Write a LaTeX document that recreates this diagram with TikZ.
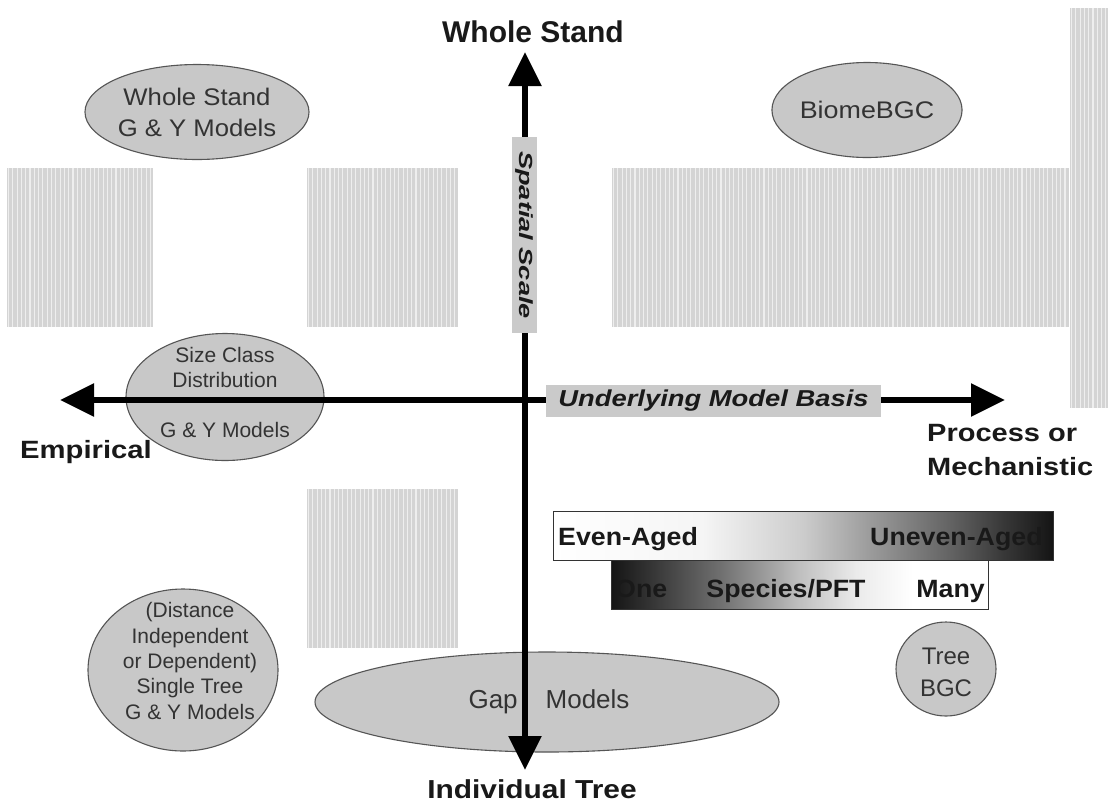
\documentclass[tikz,border=0pt]{standalone}
\usepackage{fontspec}
\setmainfont{Liberation Sans}
\usetikzlibrary{shapes.geometric,arrows.meta}

\definecolor{ellfill}{RGB}{200,200,200}
\definecolor{elldraw}{RGB}{85,85,85}
\definecolor{boxfill}{RGB}{202,202,202}
\definecolor{inktext}{RGB}{25,25,25}
\definecolor{stripebg}{RGB}{212,212,212}
\definecolor{stripelight}{RGB}{238,238,238}

\newcommand{\setfs}[2]{\fontsize{#1}{#2}\selectfont}

% left-to-right: white to black (stand age structure)
\pgfdeclarehorizontalshading{agedshade}{100bp}{%
  color(0bp)=(white); color(25bp)=(white); color(40bp)=(black!4);
  color(50bp)=(black!20); color(57bp)=(black!40); color(65bp)=(black!62);
  color(70bp)=(black!78); color(75bp)=(black!92); color(100bp)=(black!92)}
% left-to-right: black to white (species richness)
\pgfdeclarehorizontalshading{speciesshade}{100bp}{%
  color(0bp)=(black!92); color(25bp)=(black!92); color(30bp)=(black!80);
  color(40bp)=(black!55); color(50bp)=(black!25); color(57.5bp)=(black!8);
  color(65bp)=(white); color(75bp)=(white); color(100bp)=(white)}

% light grey block with thin vertical stripes
\newcommand{\stripeblk}[4]{%
  \fill[stripebg] (#1,#2) rectangle (#3,#4);
  \pgfmathtruncatemacro{\nstr}{(#3-#1-2)/4.3}
  \foreach \i in {0,...,\nstr}{%
    \draw[stripelight,line width=1.1pt] ({#1+1.5+\i*4.3},#2) -- ({#1+1.5+\i*4.3},#4);}%
}

\tikzset{
  model/.style={ellipse, draw=elldraw, line width=1.1pt, fill=ellfill,
    inner sep=0pt, text=black!80, align=center},
  modeltext/.style={text=black!80, align=center, inner sep=0pt},
  axisline/.style={line width=5.5pt, -{Triangle[length=34pt,width=32pt]}},
  axislabel/.style={fill=boxfill, inner sep=0pt, text=inktext},
  poletext/.style={text=inktext, inner sep=0pt, font=\bfseries},
  scalebar/.style={draw=black!80, line width=1pt, minimum height=49pt, inner sep=0pt},
  bartext/.style={text=inktext, inner sep=0pt, font=\bfseries\setfs{25}{30}},
}

\begin{document}
\begin{tikzpicture}[x=1pt,y=-1pt]
\useasboundingbox (0,0) rectangle (1108,804);
\fill[white] (0,0) rectangle (1108,804);

% striped blocks
\stripeblk{7}{168}{153}{327}
\stripeblk{307}{168}{458}{327}
\stripeblk{612}{168}{1069}{327}
\stripeblk{1070}{8}{1108}{408}
\stripeblk{307}{489}{458}{648}

% model families
\node[model, minimum width=214pt, minimum height=95pt, font=\setfs{24}{31}] (wsgy) at (197,112)
  {\scalebox{1.07}[1]{Whole Stand}\\\scalebox{1.07}[1]{G \& Y Models}};
\node[model, minimum width=185pt, minimum height=95pt, font=\setfs{24}{31}] (biome) at (867,110)
  {\scalebox{1.12}[1]{BiomeBGC}};
\node[model, minimum width=198pt, minimum height=127pt] (sizecl) at (225,397) {};
\node[modeltext, font=\setfs{21}{25}] (sizecltxt) at (225,392.5)
  {Size Class\\Distribution\\[25pt]G \& Y Models};
\node[model, minimum width=190pt, minimum height=162pt] (single) at (183,670) {};
\node[modeltext, font=\setfs{21}{25.3}] (singletxt) at (190,661)
  {(Distance\\Independent\\or Dependent)\\Single Tree\\G \& Y Models};
\node[model, minimum width=464pt, minimum height=100pt] (gap) at (547,702) {};
\node[modeltext, font=\setfs{26}{30}] (gaptxt) at (549,702)
  {Gap\hspace{28pt}Models};
\node[model, minimum width=100pt, minimum height=94pt] (treebgc) at (946,669) {};
\node[modeltext, font=\setfs{24}{32}] (treebgctxt) at (946,672) {Tree\\BGC};

% gradient bars
\node[scalebar, shading=agedshade, minimum width=500pt] (aged) at (803,536) {};
\node[bartext, anchor=base west] (even) at (558,545) {\scalebox{1.07}[1]{Even-Aged}};
\begin{scope}
  \clip (aged.south west) rectangle (aged.north east);
  \node[bartext, anchor=base west] (uneven) at (870,545) {\scalebox{1.07}[1]{Uneven-Aged}};
\end{scope}
\node[scalebar, shading=speciesshade, minimum width=377pt] (species) at (799.5,585) {};
\node[bartext, anchor=base west] (one) at (615,597) {\scalebox{1.07}[1]{One}};
\node[bartext, anchor=base] (spp) at (786,597) {\scalebox{1.07}[1]{Species/PFT}};
\node[bartext, anchor=base east] (many) at (985,597) {\scalebox{1.07}[1]{Many}};

% axes
\coordinate (o) at (525,400);
\coordinate (top) at (525,52);
\coordinate (bot) at (525,770);
\coordinate (left) at (60,400);
\coordinate (right) at (1005,400);
\draw[axisline] (o) -- (top);
\draw[axisline] (o) -- (bot);
\draw[axisline] (o) -- (left);
\draw[axisline] (o) -- (right);

% axis captions
\node[axislabel, minimum width=25pt, minimum height=196pt] (spatial) at (524.5,235)
  {\rotatebox{-90}{\bfseries\itshape\setfs{19}{22}\scalebox{1.43}[1]{Spatial Scale}}};
\node[axislabel, minimum width=335pt, minimum height=32pt] (basis) at (713.5,401)
  {\bfseries\itshape\setfs{23}{26}\scalebox{1.19}[1]{Underlying Model Basis}};

% pole labels
\node[poletext, font=\bfseries\setfs{30}{34}] (wstand) at (533,32) {Whole Stand};
\node[poletext, font=\bfseries\setfs{26}{30}] (indiv) at (532,789) {\scalebox{1.15}[1]{Individual Tree}};
\node[poletext, font=\bfseries\setfs{25}{30}] (emp) at (86,452) {\scalebox{1.17}[1]{Empirical}};
\node[poletext, anchor=west, align=left, font=\bfseries\setfs{25}{34}] (proc) at (927,450)
  {\scalebox{1.16}[1]{Process or}\\\scalebox{1.16}[1]{Mechanistic}};
\end{tikzpicture}
\end{document}
